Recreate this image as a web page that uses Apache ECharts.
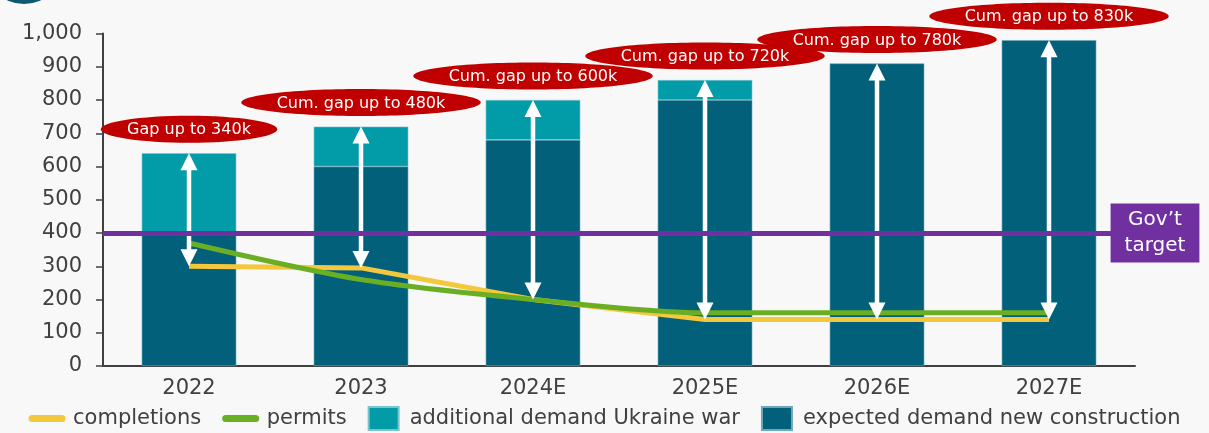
<!DOCTYPE html>
<html>
<head>
<meta charset="utf-8">
<script src="https://cdn.jsdelivr.net/npm/echarts@6/dist/echarts.min.js"></script>
<style>
html,body{margin:0;padding:0;background:#f8f8f8;}
#chart{width:1209px;height:433px;}
</style>
</head>
<body>
<div id="chart"></div>
<script>
const categories = ['2022', '2023', '2024E', '2025E', '2026E', '2027E'];
const expectedDemand = [400, 600, 680, 800, 910, 980];
const ukraineDemand = [240, 120, 120, 60, null, null];
const completions = [300, 295, 200, 140, 140, 140];
const permits = [370, 260, 200, 160, 160, 160];
const govTarget = 400;
const gapLabels = ['Gap up to 340k', 'Cum. gap up to 480k', 'Cum. gap up to 600k',
                   'Cum. gap up to 720k', 'Cum. gap up to 780k', 'Cum. gap up to 830k'];
const yMin = 0, yMax = 1000, yInterval = 100;

const FONT = 'DejaVu Sans';
const totals = expectedDemand.map((v, i) => v + (ukraineDemand[i] || 0));
const arrowData = categories.map((c, i) => [i, completions[i], totals[i]]);
const bubbleData = categories.map((c, i) => [i, totals[i]]);

const chart = echarts.init(document.getElementById('chart'));
chart.setOption({
  animation: false,
  backgroundColor: '#f8f8f8',
  textStyle: { fontFamily: FONT },
  graphic: [{
    type: 'circle', shape: { cx: 24, cy: -36, r: 40 },
    style: { fill: '#0d5a6e' }, z: 10
  }],
  grid: { left: 103, right: 74, top: 33.5, bottom: 67, containLabel: false },
  legend: {
    top: 401, left: 'center',
    itemWidth: 30, itemHeight: 23, itemGap: 21,
    textStyle: { fontFamily: FONT, fontSize: 21, color: '#404040', padding: [0, 0, 0, 6] },
    data: [
      { name: 'completions', itemStyle: { opacity: 0 }, lineStyle: { width: 7, cap: 'round' } },
      { name: 'permits', itemStyle: { opacity: 0 }, lineStyle: { width: 7, cap: 'round' } },
      { name: 'additional demand Ukraine war', icon: 'rect' },
      { name: 'expected demand new construction', icon: 'rect' }
    ]
  },
  xAxis: {
    type: 'category', data: categories,
    axisLine: { lineStyle: { color: '#404040', width: 2 } },
    axisTick: { show: false },
    axisLabel: { fontFamily: FONT, fontSize: 21, color: '#404040', margin: 12 }
  },
  yAxis: {
    type: 'value', min: yMin, max: yMax, interval: yInterval,
    axisLine: { show: true, lineStyle: { color: '#404040', width: 2 } },
    axisTick: { show: true, length: 7, lineStyle: { color: '#404040', width: 1.5 } },
    splitLine: { show: false },
    axisLabel: {
      fontFamily: FONT, fontSize: 21, color: '#404040', margin: 21,
      formatter: v => v.toLocaleString('en-US')
    }
  },
  series: [
    {
      name: 'expected demand new construction', type: 'bar', stack: 'demand',
      data: expectedDemand, barCategoryGap: '45%', z: 2,
      itemStyle: { color: '#02607a', borderColor: '#6fa9b8', borderWidth: 0.6 }
    },
    {
      name: 'additional demand Ukraine war', type: 'bar', stack: 'demand',
      data: ukraineDemand, barCategoryGap: '45%', z: 2,
      itemStyle: { color: '#029ca9', borderColor: '#7cc4cc', borderWidth: 0.6 }
    },
    {
      name: 'completions', type: 'line', data: completions, z: 3,
      symbol: 'none', lineStyle: { color: '#f4c83c', width: 5 },
      itemStyle: { color: '#f4c83c' },
      markLine: {
        silent: true, symbol: 'none', z: 5,
        lineStyle: { color: '#7030a0', width: 5, type: 'solid' },
        label: {
          show: true, position: 'end', distance: 20, align: 'center',
          formatter: 'Gov’t\ntarget', color: '#fff', fontFamily: FONT, fontSize: 20,
          lineHeight: 26, backgroundColor: '#7030a0', padding: [4, 14, 3, 14]
        },
        data: [{ yAxis: govTarget }]
      }
    },
    {
      name: 'permits', type: 'line', data: permits, z: 3, smooth: 0.3,
      symbol: 'none', lineStyle: { color: '#6aae24', width: 5 },
      itemStyle: { color: '#6aae24' }
    },
    {
      name: 'gapArrows', type: 'custom', data: arrowData, z: 4,
      encode: { x: 0, y: [1, 2] },
      renderItem: function (params, api) {
        const x = api.value(0);
        const lo = api.coord([x, api.value(1)]);
        const hi = api.coord([x, api.value(2)]);
        const hw = 8.5, hh = 17;
        return {
          type: 'group', children: [
            { type: 'line', shape: { x1: lo[0], y1: lo[1] - hh + 1, x2: hi[0], y2: hi[1] + hh - 1 },
              style: { stroke: '#ffffff', lineWidth: 4.5 } },
            { type: 'polygon', shape: { points: [[hi[0], hi[1]], [hi[0] - hw, hi[1] + hh], [hi[0] + hw, hi[1] + hh]] },
              style: { fill: '#ffffff' } },
            { type: 'polygon', shape: { points: [[lo[0], lo[1]], [lo[0] - hw, lo[1] - hh], [lo[0] + hw, lo[1] - hh]] },
              style: { fill: '#ffffff' } }
          ]
        };
      }
    },
    {
      name: 'gapBubbles', type: 'custom', data: bubbleData, z: 6, clip: false,
      encode: { x: 0, y: 1 },
      renderItem: function (params, api) {
        const p = api.coord([api.value(0), api.value(1)]);
        const txt = gapLabels[params.dataIndex];
        const cy = p[1] - 24;
        const rx = txt.length * 6.3;
        return {
          type: 'group', children: [
            { type: 'ellipse', shape: { cx: p[0], cy: cy, rx: rx, ry: 13.5 },
              style: { fill: '#c00000' } },
            { type: 'text', style: { x: p[0], y: cy + 1, text: txt, fill: '#ffffff',
              font: '16px "DejaVu Sans"', align: 'center', verticalAlign: 'middle' } }
          ]
        };
      }
    }
  ]
});
</script>
</body>
</html>
